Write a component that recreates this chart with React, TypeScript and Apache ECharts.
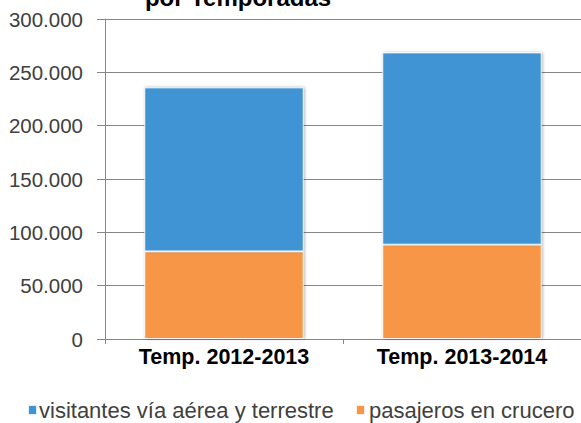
import React, { useEffect, useRef } from "react";
import * as echarts from "echarts";

const categories = ["Temp. 2012-2013", "Temp. 2013-2014"];
const seriesNames = ["visitantes vía aérea y terrestre", "pasajeros en crucero"];
const cruceroValues = [82100, 88400];
const visitantesValues = [153800, 180300];
const yTicks = [0, 50000, 100000, 150000, 200000, 250000, 300000];
const titleText = "por Temporadas";

const fmt = (v: number) => (v === 0 ? "0" : v.toLocaleString("de-DE"));

export default function App() {
  const ref = useRef<HTMLDivElement>(null);
  useEffect(() => {
    if (!ref.current) return;
    const chart = echarts.init(ref.current, undefined, { renderer: "svg" });
    const font = "Liberation Sans, Arial, sans-serif";
    const barStyle = (color: string) => ({
      color,
      borderColor: "rgba(255,255,255,0.85)",
      borderWidth: 1,
      shadowBlur: 3,
      shadowColor: "rgba(0,0,0,0.3)",
      shadowOffsetX: 1,
      shadowOffsetY: 0,
    });
    const legendBase = {
      top: 399,
      padding: 0,
      itemWidth: 9,
      itemHeight: 10,
      itemGap: 0,
      icon: "rect",
    };
    chart.setOption({
      animation: false,
      backgroundColor: "#ffffff",
      graphic: [
        {
          type: "text",
          x: 238,
          y: 9,
          z: 100,
          style: {
            text: titleText,
            fill: "#000",
            font: `bold 24px ${font}`,
            align: "center",
            verticalAlign: "bottom",
          },
        },
      ],
      legend: [
        {
          ...legendBase,
          data: [seriesNames[0]],
          left: 27,
          textStyle: { fontFamily: font, fontSize: 22, lineHeight: 22, color: "#404040", padding: [0, 0, 0, -3] },
        },
        {
          ...legendBase,
          data: [seriesNames[1]],
          left: 355,
          textStyle: { fontFamily: font, fontSize: 22, lineHeight: 22, color: "#404040", padding: [0, 0, 0, -1] },
        },
      ],
      grid: { left: 105, right: 0, top: 19, bottom: 84, containLabel: false },
      xAxis: {
        type: "category",
        data: categories,
        axisLine: { lineStyle: { color: "#868686", width: 1 } },
        axisTick: { show: true, length: 5, lineStyle: { color: "#868686" } },
        axisLabel: {
          fontFamily: font,
          fontSize: 21.5,
          fontWeight: "bold",
          color: "#000",
          margin: 7,
        },
      },
      yAxis: {
        type: "value",
        min: 0,
        max: 300000,
        interval: 50000,
        axisLine: { show: true, lineStyle: { color: "#868686", width: 1 } },
        axisTick: { show: true, length: 8, lineStyle: { color: "#868686" } },
        splitLine: { show: true, lineStyle: { color: "#868686", width: 1 } },
        axisLabel: {
          fontFamily: font,
          fontSize: 20.5,
          color: "#404040",
          margin: 22,
          formatter: (v: number) => (yTicks.includes(v) ? fmt(v) : ""),
        },
      },
      series: [
        {
          name: seriesNames[1],
          type: "bar",
          stack: "total",
          barWidth: "67%",
          data: cruceroValues,
          itemStyle: barStyle("#F79646"),
        },
        {
          name: seriesNames[0],
          type: "bar",
          stack: "total",
          barWidth: "67%",
          data: visitantesValues,
          itemStyle: barStyle("#4094D4"),
        },
      ],
    });
    return () => chart.dispose();
  }, []);
  return (
    <div
      ref={ref}
      style={{ position: "fixed", left: 0, top: 0, width: 581, height: 423 }}
    />
  );
}
